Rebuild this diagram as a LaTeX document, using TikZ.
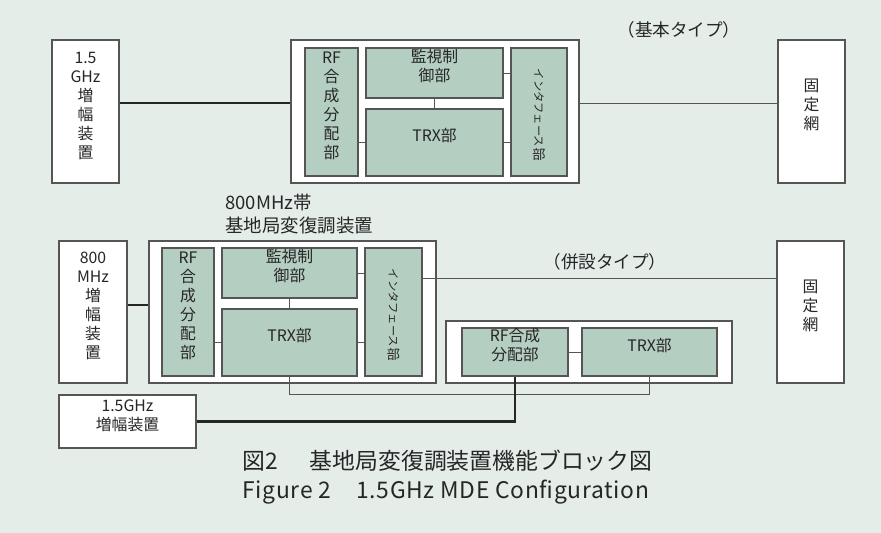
\documentclass[tikz,border=0pt]{standalone}
\usepackage{fontspec}
\setmainfont{Noto Sans CJK JP}
\usetikzlibrary{fit}
\definecolor{paper}{HTML}{E5EDE9}
\definecolor{boxgreen}{HTML}{B4CEC1}
\definecolor{wire}{HTML}{555555}
\definecolor{ink}{HTML}{262626}
\tikzset{whitebox/.style={draw=wire, fill=white, inner sep=0pt, line width=0.6pt, align=center, text=ink, font=\fontsize{9}{10.8}\selectfont}}
\tikzset{greenbox/.style={draw=wire, fill=boxgreen, inner sep=0pt, line width=0.6pt, align=center, text=ink, font=\fontsize{9}{10.8}\selectfont}}
\tikzset{katatext/.style={text=ink, inner sep=0pt, rotate=-90, anchor=west, font=\fontsize{6.4}{6.4}\selectfont}}
\tikzset{bubox/.style={text=ink, inner sep=0pt, anchor=north, font=\fontsize{7.5}{7.5}\selectfont}}
\tikzset{thinwire/.style={draw=wire, line width=0.55pt}, thickwire/.style={draw=black!85, line width=1.4pt}}
\tikzset{note/.style={text=ink, inner sep=0pt}}

\begin{document}
\begin{tikzpicture}[x=0.02cm, y=-0.02cm]
  \fill[paper] (0,0) rectangle (881,533);
  \useasboundingbox (0,0) rectangle (881,533);
  % basic type
  \node[whitebox, fit={(52,40) (119,183)}] (amp15) {1.5\\GHz\\増\\幅\\装\\置};
  \node[whitebox, fit={(291,40) (579,183)}] (cont1) {};
  \node[greenbox, fit={(305,48) (358,176)}] (rf1) {RF\\合\\成\\分\\配\\部};
  \node[greenbox, fit={(366,48) (503,98)}] (mon1) {監視制\\御部};
  \node[greenbox, fit={(366,109) (503,176)}] (trx1) {TRX部};
  \node[greenbox, fit={(511,48) (567,176)}] (if1) {};
  \node[katatext] (if1k) at ([yshift=-0.42cm]if1.north) {インタフェース};
  \node[bubox] (if1b) at ([yshift=-0.5pt]if1k.east) {部};
  \node[whitebox, fit={(778,40) (845,183)}] (net1) {固\\定\\網};
  \node[note, font=\fontsize{10}{10}\selectfont] (lbl1) at (679,30) {（基本タイプ）};
  \coordinate (w1) at (0,103);
  \draw[thickwire] (amp15.east |- w1) -- (cont1.west |- w1);
  \draw[thinwire] (cont1.east |- w1) -- (net1.west |- w1);
  \draw[thinwire] (rf1.east |- trx1) -- (trx1.west);
  \draw[thinwire] (mon1.south) -- (trx1.north);
  \draw[thinwire] (mon1.east) -- (if1.west |- mon1.east);
  \draw[thinwire] (trx1.east) -- (if1.west |- trx1.east);
  % combined type
  \node[note, anchor=west, align=left, font=\fontsize{10.5}{13.5}\selectfont] (lbl2) at (225,214) {800MHz帯\\基地局変復調装置};
  \node[whitebox, fit={(59,241) (127,383)}] (amp800) {800\\MHz\\増\\幅\\装\\置};
  \node[whitebox, fit={(149,241) (436,383)}] (cont2) {};
  \node[greenbox, fit={(162,248) (214,376)}] (rf2) {RF\\合\\成\\分\\配\\部};
  \node[greenbox, fit={(222,248) (357,298)}] (mon2) {監視制\\御部};
  \node[greenbox, fit={(222,309) (357,376)}] (trx2) {TRX部};
  \node[greenbox, fit={(365,248) (422,376)}] (if2) {};
  \node[katatext] (if2k) at ([yshift=-0.42cm]if2.north) {インタフェース};
  \node[bubox] (if2b) at ([yshift=-0.5pt]if2k.east) {部};
  \node[whitebox, fit={(777,241) (844,383)}] (net2) {固\\定\\網};
  \node[note, font=\fontsize{10}{10}\selectfont] (lbl3) at (605,262) {（併設タイプ）};
  \node[whitebox, fit={(446,321) (732,383)}] (cont3) {};
  \node[greenbox, fit={(462,328) (568,376)}] (rf3) {RF合成\\分配部};
  \node[greenbox, fit={(582,328) (717,376)}] (trx3) {TRX部};
  \node[whitebox, fit={(59,395) (196,448)}] (amp15b) {1.5GHz\\増幅装置};
  \coordinate (w2) at (0,305);
  \coordinate (w3) at (0,278);
  \coordinate (w4) at (0,394);
  \draw[thickwire] (amp800.east |- w2) -- (cont2.west |- w2);
  \draw[thinwire] (rf2.east |- trx2) -- (trx2.west);
  \draw[thinwire] (mon2.south) -- (trx2.north);
  \draw[thinwire] (mon2.east) -- (if2.west |- mon2.east);
  \draw[thinwire] (trx2.east) -- (if2.west |- trx2.east);
  \draw[thinwire] (if2.east |- w3) -- (net2.west |- w3);
  \draw[thinwire] (rf3.east) -- (trx3.west);
  \draw[thinwire] (trx2.south) -- (trx2.south |- w4) -| (trx3.south);
  \draw[thickwire] (amp15b.east) -| (rf3.south);
  % caption
  \node[note, anchor=west, align=left, font=\fontsize{13}{17}\selectfont] (cap) at (242,477) {図2\hspace{1.4em}基地局変復調装置機能ブロック図\\{\addfontfeature{LetterSpace=3}Figure 2\hspace{1.1em}1.5GHz MDE Configuration}};
\end{tikzpicture}
\end{document}
